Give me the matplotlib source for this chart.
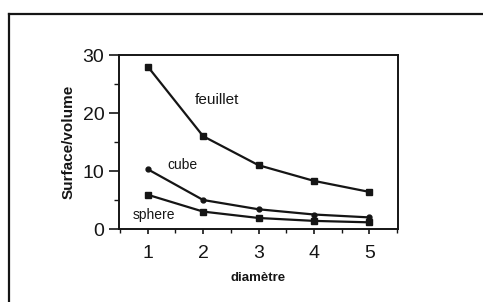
import matplotlib
matplotlib.use("Agg")
import matplotlib.pyplot as plt
from matplotlib.lines import Line2D
from matplotlib.ticker import MultipleLocator

plt.rcParams['font.family'] = ['Liberation Sans', 'DejaVu Sans']

diametre = [1, 2, 3, 4, 5]
feuillet = [28.0, 16.0, 11.0, 8.3, 6.4]
cube = [10.3, 5.0, 3.4, 2.5, 2.0]
sphere = [5.9, 3.0, 1.9, 1.4, 1.15]

ink = '#151515'

fig = plt.figure(figsize=(4.83, 3.02), dpi=100)
ax = fig.add_axes([119/483, 73/302, 279/483, 174/302])

ax.plot(diametre, feuillet, color=ink, lw=1.6, marker='s', ms=4.5)
ax.plot(diametre, cube, color=ink, lw=1.6, marker='o', ms=3.5)
ax.plot(diametre, sphere, color=ink, lw=1.6, marker='s', ms=4.2)

ax.text(1.85, 22.2, 'feuillet', fontsize=11, color=ink, va='center', ha='left')
ax.text(1.36, 11.0, 'cube', fontsize=10, color=ink, va='center', ha='left')
ax.text(0.73, 2.4, 'sphere', fontsize=10, color=ink, va='center', ha='left')

ax.set_xlim(0.48, 5.52)
ax.set_ylim(0, 30)
ax.set_xticks(diametre)
ax.set_yticks([0, 10, 20, 30])
ax.xaxis.set_minor_locator(MultipleLocator(0.5))
ax.yaxis.set_minor_locator(MultipleLocator(5))
ax.tick_params(axis='y', which='major', direction='out', length=7.5, width=1.2,
               labelsize=14, pad=3, colors=ink)
ax.tick_params(axis='y', which='minor', direction='out', length=3.8, width=1.0, colors=ink)
ax.tick_params(axis='x', which='major', direction='out', length=3.5, width=1.2,
               labelsize=14, pad=8, colors=ink)
ax.tick_params(axis='x', which='minor', direction='out', length=3.0, width=1.0, colors=ink)

for s in ax.spines.values():
    s.set_linewidth(1.4)
    s.set_color(ink)

ax.set_ylabel('Surface/volume', fontsize=11, fontweight='bold', color=ink, labelpad=5)
ax.set_xlabel('diamètre', fontsize=9.5, fontweight='bold', color=ink, labelpad=7)

# outer frame
fig.add_artist(Line2D([8.5/483, 1.0], [1 - 14/302, 1 - 14/302], transform=fig.transFigure,
                      color=ink, lw=1.6, solid_capstyle='projecting'))
fig.add_artist(Line2D([8.5/483, 8.5/483], [1 - 14/302, 0.0], transform=fig.transFigure,
                      color=ink, lw=1.6, solid_capstyle='projecting'))

fig.savefig('out.png', dpi=100)
